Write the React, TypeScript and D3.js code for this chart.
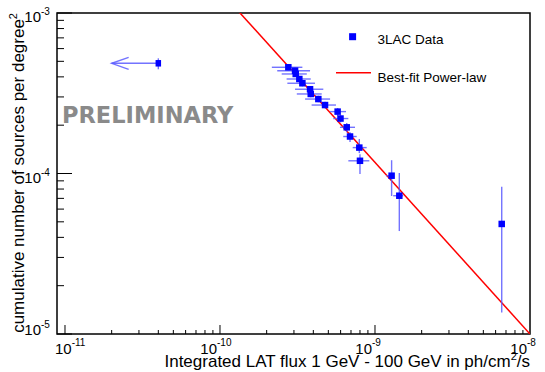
import React, { useEffect, useRef } from "react";
import * as d3 from "d3";

// 3LAC points (flux in ph/cm2/s, cumulative number per deg2)
const flux = [2.76e-10, 3.05e-10, 3.08e-10, 3.25e-10, 3.4e-10, 3.81e-10, 3.85e-10, 4.31e-10, 4.76e-10, 5.74e-10, 5.99e-10, 6.57e-10, 6.9e-10, 7.92e-10, 8.0e-10, 1.28e-9, 1.435e-9, 6.57e-9];
const counts = [4.59e-4, 4.37e-4, 4.17e-4, 3.88e-4, 3.65e-4, 3.35e-4, 3.13e-4, 2.91e-4, 2.67e-4, 2.43e-4, 2.2e-4, 1.94e-4, 1.7e-4, 1.45e-4, 1.2e-4, 9.69e-5, 7.27e-5, 4.85e-5];
const fluxLo = [2.16e-10, 2.34e-10, 2.5e-10, 2.69e-10, 2.72e-10, 3.05e-10, 3.13e-10, 3.54e-10, 3.9e-10, 5.13e-10, 5.38e-10, 5.94e-10, 6.24e-10, 7.18e-10, 6.73e-10, 1.18e-9, 1.31e-9, 6.57e-9];
const fluxHi = [3.4e-10, 3.81e-10, 3.63e-10, 3.85e-10, 4.1e-10, 4.64e-10, 4.53e-10, 5.13e-10, 5.6e-10, 6.5e-10, 6.73e-10, 7.43e-10, 7.62e-10, 8.84e-10, 9.19e-10, 1.32e-9, 1.52e-9, 6.57e-9];
const countLo = [4.39e-4, 4.18e-4, 3.99e-4, 3.71e-4, 3.49e-4, 3.2e-4, 2.99e-4, 2.78e-4, 2.55e-4, 2.28e-4, 2.08e-4, 1.81e-4, 1.57e-4, 1.34e-4, 9.93e-5, 7.24e-5, 4.38e-5, 1.36e-5];
const countHi = [4.8e-4, 4.57e-4, 4.36e-4, 4.06e-4, 3.82e-4, 3.5e-4, 3.27e-4, 3.05e-4, 2.8e-4, 2.56e-4, 2.33e-4, 2.06e-4, 1.81e-4, 1.64e-4, 1.32e-4, 1.21e-4, 1.007e-4, 8.27e-5];

// upper limit point with arrow
const ulFlux = 4e-11;
const ulArrowTo = 2e-11;
const ulCount = 4.86e-4;
const ulCountLo = 4.46e-4;
const ulCountHi = 5.22e-4;

// best-fit power law N(>S) = fitNorm * (S / fitPivot)^-fitIndex
const fitNorm = 1e-5;
const fitPivot = 1e-8;
const fitIndex = 1.069;
const fitRange = [1.2e-10, 1e-8];

const xTickExps = [-11, -10, -9, -8];
const yTickExps = [-3, -4, -5];

const width = 545;
const height = 372;
const margin = { top: 13, right: 15, bottom: 38, left: 57 };
const font = "'Liberation Sans', Arial, sans-serif";
const errColor = "#5b5bff";

const App = () => {
  const ref = useRef<SVGSVGElement>(null);

  useEffect(() => {
    const svg = d3.select(ref.current);
    svg.selectAll("*").remove();

    const x = d3.scaleLog().domain([Math.pow(10, -11.0516), 1e-8]).range([margin.left, width - margin.right]);
    const y = d3.scaleLog().domain([1e-5, 1e-3]).range([height - margin.bottom, margin.top]);
    const x0 = margin.left, x1 = width - margin.right;
    const y0 = height - margin.bottom, y1 = margin.top;

    svg.append("rect").attr("width", width).attr("height", height).attr("fill", "white");

    svg.append("clipPath").attr("id", "plotclip")
      .append("rect").attr("x", x0).attr("y", y1).attr("width", x1 - x0).attr("height", y0 - y1);

    // minor and major ticks
    const xt = svg.append("g");
    for (let e = -11; e < -8; e++) {
      for (let m = 1; m < 10; m++) {
        const v = m * Math.pow(10, e);
        const px = x(v);
        const len = m === 1 ? 9 : 4;
        xt.append("line").attr("x1", px).attr("x2", px).attr("y1", y0).attr("y2", y0 - len)
          .attr("stroke", "black").attr("stroke-width", 1);
      }
    }
    const yt = svg.append("g");
    for (let e = -5; e < -3; e++) {
      for (let m = 1; m < 10; m++) {
        const v = m * Math.pow(10, e);
        const py = y(v);
        const len = m === 1 ? 15 : 7;
        yt.append("line").attr("x1", x0).attr("x2", x0 + len).attr("y1", py).attr("y2", py)
          .attr("stroke", "black").attr("stroke-width", 1);
      }
    }
    yt.append("line").attr("x1", x0).attr("x2", x0 + 15).attr("y1", y(1e-3)).attr("y2", y(1e-3))
      .attr("stroke", "black").attr("stroke-width", 1);

    // frame
    svg.append("rect").attr("x", x0).attr("y", y1).attr("width", x1 - x0).attr("height", y0 - y1)
      .attr("fill", "none").attr("stroke", "black").attr("stroke-width", 1.5);

    // tick labels
    xTickExps.forEach((e) => {
      const px = x(Math.pow(10, e));
      const start = Math.max(px - 3 - 16.7, 55);
      const t = svg.append("text").attr("font-family", font).attr("fill", "black");
      t.append("tspan").attr("x", start).attr("y", 354).attr("font-size", 15).text("10");
      t.append("tspan").attr("x", start + 16.7).attr("y", 346).attr("font-size", 10).text(String(e));
    });
    yTickExps.forEach((e) => {
      const py = y(Math.pow(10, e));
      const base = Math.min(py + 9, 335);
      const t = svg.append("text").attr("font-family", font).attr("fill", "black");
      t.append("tspan").attr("x", 41 - 16.7).attr("y", base).attr("font-size", 15).text("10");
      t.append("tspan").attr("x", 41).attr("y", base - 7).attr("font-size", 10).text(String(e));
    });

    // axis titles
    const xt2 = svg.append("text").attr("font-family", font).attr("font-size", 17)
      .attr("text-anchor", "end").attr("x", x1).attr("y", 367);
    xt2.append("tspan").text("Integrated LAT flux 1 GeV - 100 GeV in ph/cm");
    xt2.append("tspan").attr("font-size", 11).attr("dy", -7).text("2");
    xt2.append("tspan").attr("dy", 7).text("/s");

    const yt2 = svg.append("text").attr("font-family", font).attr("font-size", 17)
      .attr("text-anchor", "end").attr("transform", `translate(24, ${y1}) rotate(-90)`);
    yt2.append("tspan").text("cumulative number of sources per degree");
    yt2.append("tspan").attr("font-size", 11).attr("dy", -7).text("2");

    // PRELIMINARY
    svg.append("text").attr("x", 62).attr("y", 123).attr("font-family", "'DejaVu Sans', sans-serif")
      .attr("font-weight", "bold").attr("font-size", 22.5).attr("fill", "#8a8a8a").text("PRELIMINARY");

    const plot = svg.append("g").attr("clip-path", "url(#plotclip)");

    // fit line
    const line = d3.line<number>().x((s) => x(s)).y((s) => y(fitNorm * Math.pow(s / fitPivot, -fitIndex)));
    plot.append("path").datum(fitRange).attr("d", line).attr("fill", "none")
      .attr("stroke", "#ff0000").attr("stroke-width", 1.5);

    // error bars
    const eb = plot.append("g").attr("stroke", errColor).attr("stroke-width", 1.4).attr("stroke-opacity", 0.85);
    flux.forEach((f, i) => {
      eb.append("line").attr("x1", x(fluxLo[i])).attr("x2", x(fluxHi[i]))
        .attr("y1", y(counts[i])).attr("y2", y(counts[i]));
      eb.append("line").attr("x1", x(f)).attr("x2", x(f))
        .attr("y1", y(countLo[i])).attr("y2", y(countHi[i]));
    });

    // upper limit arrow
    const ux = x(ulFlux), uy = y(ulCount), tip = x(ulArrowTo);
    eb.append("line").attr("x1", ux).attr("x2", ux).attr("y1", y(ulCountLo)).attr("y2", y(ulCountHi));
    eb.append("line").attr("x1", ux).attr("x2", tip).attr("y1", uy).attr("y2", uy);
    eb.append("path").attr("fill", "none")
      .attr("d", `M${tip + 17},${uy - 6}L${tip},${uy}L${tip + 17},${uy + 6}`);

    // markers
    const ms = 6.5;
    plot.append("g").selectAll("rect").data(flux).enter().append("rect")
      .attr("x", (d) => x(d) - ms / 2)
      .attr("y", (d, i) => y(counts[i]) - ms / 2)
      .attr("width", ms).attr("height", ms).attr("fill", "#0000ff");
    plot.append("rect").attr("x", ux - ms / 2 + 0.5).attr("y", uy - ms / 2).attr("width", ms - 1).attr("height", ms)
      .attr("fill", "#0000ff");

    // legend
    const lg = svg.append("g").attr("font-family", font).attr("font-size", 13.5);
    lg.append("rect").attr("x", 352.6 - 3.5).attr("y", 36.7 - 3.5).attr("width", 7).attr("height", 7).attr("fill", "#0000ff");
    lg.append("text").attr("x", 377.5).attr("y", 44).text("3LAC Data");
    lg.append("line").attr("x1", 336).attr("x2", 371).attr("y1", 72.7).attr("y2", 72.7)
      .attr("stroke", "#ff0000").attr("stroke-width", 1.5);
    lg.append("text").attr("x", 377.5).attr("y", 82).text("Best-fit Power-law");
  }, []);

  return (
    <svg
      ref={ref}
      width={width}
      height={height}
      style={{ position: "absolute", left: 0, top: 0 }}
    ></svg>
  );
};

export default App;
